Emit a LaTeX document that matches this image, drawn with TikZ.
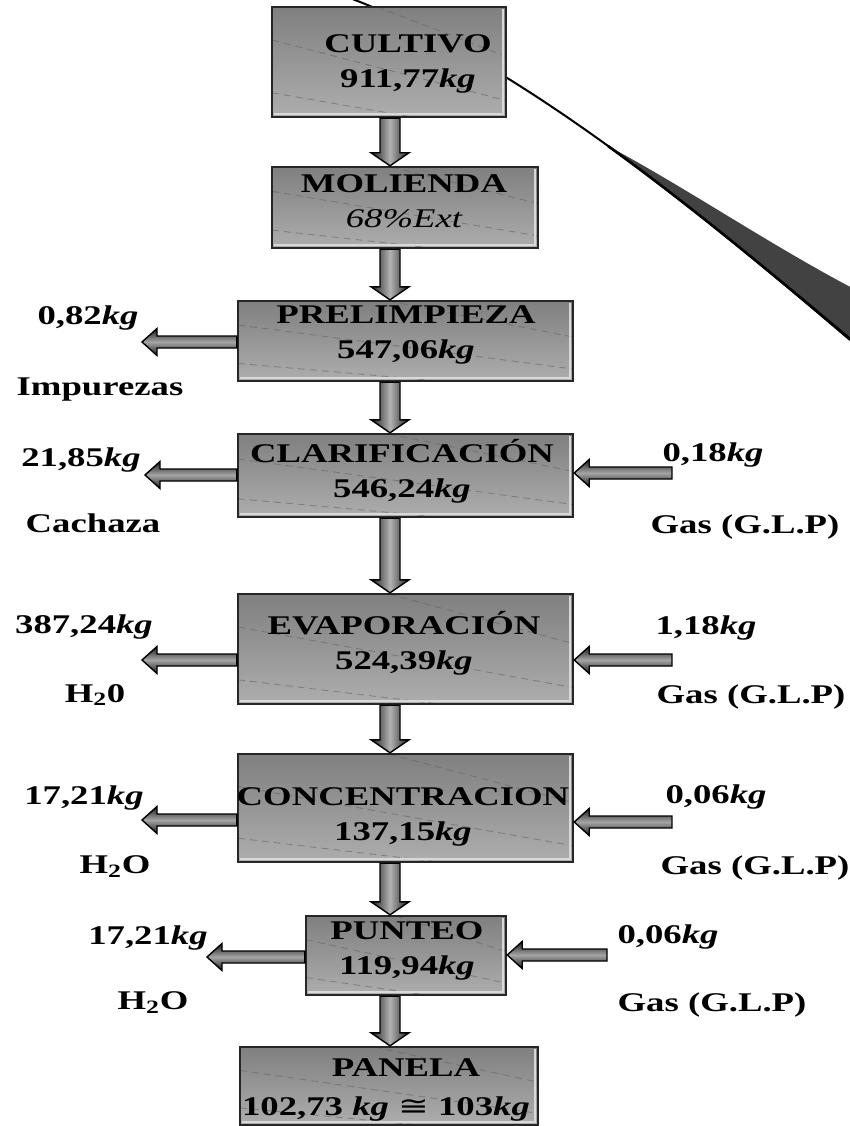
\documentclass[tikz,border=0pt]{standalone}
\usepackage{fontspec}
\setmainfont{Liberation Serif}
\newfontfamily\symfont{DejaVu Sans}
\usetikzlibrary{calc}
\newcommand\sx[1]{\scalebox{1.36}[1]{#1}}
\newcommand\fatdown[2]{\draw[varrow] let \p1=(#1), \p2=(#2) in
  (\x1-10pt,\y1) -- (\x1-10pt,\y2+13pt) -- (\x1-19pt,\y2+13pt) -- (\x1,\y2) --
  (\x1+19pt,\y2+13pt) -- (\x1+10pt,\y2+13pt) -- (\x1+10pt,\y1) -- cycle;}
\newcommand\fatleft[2]{\draw[harrow] let \p1=(#1), \p2=(#2) in
  (\x1,\y1+6pt) -- (\x2+15pt,\y1+6pt) -- (\x2+15pt,\y1+13.5pt) -- (\x2,\y1) --
  (\x2+15pt,\y1-13.5pt) -- (\x2+15pt,\y1-6pt) -- (\x1,\y1-6pt) -- cycle;}
\tikzset{
  procbox/.style={draw=black!85, line width=2.4pt, inner sep=0pt,
    top color=black!50, bottom color=black!32,
    path picture={
      \draw[black!62, dash pattern=on 7pt off 5pt, line width=0.9pt, opacity=0.55]
        ($(path picture bounding box.north west)!0.3!(path picture bounding box.south west)$) --
        ($(path picture bounding box.north east)!0.85!(path picture bounding box.south east)$)
        ($(path picture bounding box.north west)!0.78!(path picture bounding box.south west)$) --
        ($(path picture bounding box.south west)!0.6!(path picture bounding box.south east)$)
        ($(path picture bounding box.north west)!0.45!(path picture bounding box.north east)$) --
        ($(path picture bounding box.north east)!0.45!(path picture bounding box.south east)$);
      \draw[white!85!black, line width=2.2pt]
        ($(path picture bounding box.south west)+(2,-3)$) --
        ($(path picture bounding box.south east)+(-3,-3)$) --
        ($(path picture bounding box.north east)+(-3,2)$);
    }},
  btext/.style={font=\fontsize{27}{35}\selectfont\bfseries, align=center, inner sep=0pt},
  ltext/.style={font=\fontsize{27}{35}\selectfont\bfseries, inner sep=0pt},
  varrow/.style={draw=black, line width=1.4pt, left color=black!88, right color=black!88, middle color=black!30},
  harrow/.style={draw=black, line width=1.4pt, top color=black!90, bottom color=black!90, middle color=black!35},
}
\begin{document}
\begin{tikzpicture}[x=1pt,y=-1pt]
\useasboundingbox (0,0) rectangle (850,1126);
\clip (0,0) rectangle (850,1126);
% callout curve
\draw[black, line width=2pt] (335,-8) -- (355,0) .. controls (520,64) and (700,212) .. (850,340);
\fill[black!74] (608,146) .. controls (690,190) and (770,245) .. (856,290) -- (856,344)
  .. controls (775,276) and (692.5,207) .. (608,146) -- cycle;
\draw[black, line width=2.6pt] (608,146) .. controls (692.5,207) and (775,276) .. (856,344);
% boxes
\node[procbox, minimum width=234pt, minimum height=110pt] (cultivo) at (389,62) {};
\node[procbox, minimum width=266pt, minimum height=81pt] (molienda) at (405,207.5) {};
\node[procbox, minimum width=335pt, minimum height=80pt] (prelim) at (405.5,341) {};
\node[procbox, minimum width=335pt, minimum height=83pt] (clar) at (405.5,475.5) {};
\node[procbox, minimum width=335pt, minimum height=110pt] (evap) at (405.5,649) {};
\node[procbox, minimum width=335pt, minimum height=108pt] (conc) at (405.5,808) {};
\node[procbox, minimum width=200pt, minimum height=79pt] (punteo) at (406,955.5) {};
\node[procbox, minimum width=298pt, minimum height=78pt] (panela) at (389,1086) {};
% box texts
\node[btext] (cultivoT) at (408,64) {\sx{CULTIVO}\\\sx{911,77\textit{kg}}};
\node[btext] (moliendaT) at (404,201.5) {\sx{MOLIENDA}\\\sx{\mdseries\itshape 68\%Ext}};
\node[btext] (prelimT) at (406,334.5) {\sx{PRELIMPIEZA}\\\sx{547,06\textit{kg}}};
\node[btext] (clarT) at (402,471.5) {\sx{CLARIFICACIÓN}\\\sx{546,24\textit{kg}}};
\node[btext] (evapT) at (404,643.5) {\sx{EVAPORACIÓN}\\\sx{524,39\textit{kg}}};
\node[btext] (concT) at (403,816.5) {\sx{CONCENTRACION}\\\sx{137,15\textit{kg}}};
\node[btext] (punteoT) at (407,950.5) {\sx{PUNTEO}\\\sx{119,94\textit{kg}}};
\node[btext] (panelaT) at (406,1068) {\sx{PANELA}};
\node[btext] (panelaT2) at (386,1109) {\sx{102,73 \textit{kg} {\symfont\mdseries ≅} 103\textit{kg}}};
% side labels
\node[ltext] (l1a) at (88,318) {\sx{0,82\textit{kg}}};
\node[ltext] (l1b) at (100,390) {\sx{Impurezas}};
\node[ltext] (l2a) at (81,460) {\sx{21,85\textit{kg}}};
\node[ltext] (l2b) at (93,523) {\sx{Cachaza}};
\node[ltext] (l3a) at (84,627) {\sx{387,24\textit{kg}}};
\node[ltext] (l3b) at (95,695) {\sx{H\textsubscript{2}0}};
\node[ltext] (l4a) at (84,798) {\sx{17,21\textit{kg}}};
\node[ltext] (l4b) at (115,867) {\sx{H\textsubscript{2}O}};
\node[ltext] (l5a) at (148,938) {\sx{17,21\textit{kg}}};
\node[ltext] (l5b) at (153,1003) {\sx{H\textsubscript{2}O}};
\node[ltext] (r2a) at (713,455) {\sx{0,18\textit{kg}}};
\node[ltext] (r2b) at (745,527) {\sx{Gas (G.L.P)}};
\node[ltext] (r3a) at (706,628) {\sx{1,18\textit{kg}}};
\node[ltext] (r3b) at (751,697) {\sx{Gas (G.L.P)}};
\node[ltext] (r4a) at (716,797) {\sx{0,06\textit{kg}}};
\node[ltext] (r4b) at (755,868) {\sx{Gas (G.L.P)}};
\node[ltext] (r5a) at (668,937) {\sx{0,06\textit{kg}}};
\node[ltext] (r5b) at (712,1005) {\sx{Gas (G.L.P)}};
% free ends of side arrows
\coordinate (axis) at (390,0);
\coordinate (prelimL) at (142,342);
\coordinate (clarL) at (145,475);
\coordinate (evapL) at (142,660);
\coordinate (concL) at (142,820);
\coordinate (punteoL) at (207,957);
\coordinate (clarR) at (672,473);
\coordinate (evapR) at (672,660);
\coordinate (concR) at (672,822);
\coordinate (punteoR) at (607,955);
% vertical flow arrows
\fatdown{axis |- cultivo.south}{axis |- molienda.north}
\fatdown{axis |- molienda.south}{axis |- prelim.north}
\fatdown{axis |- prelim.south}{axis |- clar.north}
\fatdown{axis |- clar.south}{axis |- evap.north}
\fatdown{axis |- evap.south}{axis |- conc.north}
\fatdown{axis |- conc.south}{axis |- punteo.north}
\fatdown{axis |- punteo.south}{axis |- panela.north}
% outputs (left)
\fatleft{prelimL -| prelim.west}{prelimL}
\fatleft{clarL -| clar.west}{clarL}
\fatleft{evapL -| evap.west}{evapL}
\fatleft{concL -| conc.west}{concL}
\fatleft{punteoL -| punteo.west}{punteoL}
% inputs (right)
\fatleft{clarR}{clarR -| clar.east}
\fatleft{evapR}{evapR -| evap.east}
\fatleft{concR}{concR -| conc.east}
\fatleft{punteoR}{punteoR -| punteo.east}
\end{tikzpicture}
\end{document}
